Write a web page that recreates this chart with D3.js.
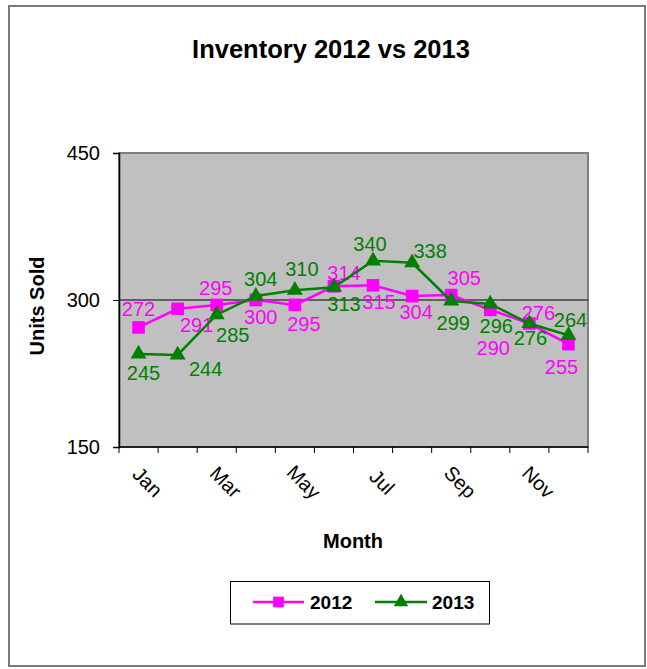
<!DOCTYPE html>
<html>
<head>
<meta charset="utf-8">
<script src="https://cdn.jsdelivr.net/npm/d3@7/dist/d3.min.js"></script>
<style>
  html, body { margin: 0; padding: 0; background: #fff; }
  svg { display: block; font-family: "Liberation Sans", Arial, sans-serif; }
</style>
</head>
<body>
<svg id="chart" width="647" height="669"></svg>
<script>
// ---- data ----
const months = ["Jan","Feb","Mar","Apr","May","Jun","Jul","Aug","Sep","Oct","Nov","Dec"];
const monthTickLabels = ["Jan","Mar","May","Jul","Sep","Nov"];
const values2012 = [272, 291, 295, 300, 295, 314, 315, 304, 305, 290, 276, 255];
const values2013 = [245, 244, 285, 304, 310, 313, 340, 338, 299, 296, 276, 264];
const yTicks = [150, 300, 450];
const seriesNames = ["2012", "2013"];

// ---- label placement (style, not data) ----
const labelOffsets2012 = [[0,-18],[19,16],[-1,-17],[5,17],[9,19],[10,-13],[6,17],[4,16],[13,-17],[3,38],[9,-11],[-7,23]];
const labelOffsets2013 = [[5,19],[28,14],[16,20],[5,-17],[7,-21],[10,17],[-3,-17],[18,-12],[2,22],[6,22],[1,14],[2,-15]];

const svg = d3.select("#chart");
const plot = { left: 119, right: 588, top: 153, bottom: 447 };
const C2012 = "#FF00FF", C2013 = "#008000";

// outer border
svg.append("rect").attr("x", 9).attr("y", 6).attr("width", 636).attr("height", 660)
  .attr("fill", "#fff").attr("stroke", "#7a7a7a").attr("stroke-width", 2);

// title
svg.append("text").attr("x", 331).attr("y", 58).attr("text-anchor", "middle")
  .attr("font-size", 25.5).attr("font-weight", "bold").text("Inventory 2012 vs 2013");

const x = d3.scaleBand().domain(months).range([plot.left, plot.right]).paddingInner(0).paddingOuter(0);
const y = d3.scaleLinear().domain([150, 450]).range([plot.bottom, plot.top]);
const cx = m => x(m) + x.bandwidth() / 2;

// plot background
svg.append("rect").attr("x", plot.left).attr("y", plot.top)
  .attr("width", plot.right - plot.left).attr("height", plot.bottom - plot.top)
  .attr("fill", "#C0C0C0").attr("stroke", "#808080").attr("stroke-width", 2);

// gridlines
svg.append("g").selectAll("line").data(yTicks.filter(t => t !== 150 && t !== 450)).join("line")
  .attr("x1", plot.left).attr("x2", plot.right)
  .attr("y1", d => y(d)).attr("y2", d => y(d))
  .attr("stroke", "#000").attr("stroke-width", 1);

// y axis
const yAxis = svg.append("g").attr("transform", `translate(${plot.left},0)`)
  .call(d3.axisLeft(y).tickValues(yTicks).tickSize(6).tickPadding(13).tickFormat(d3.format("d")));
yAxis.select(".domain").attr("stroke", "#000").attr("stroke-width", 1.5);
yAxis.selectAll(".tick line").attr("stroke", "#000");
yAxis.selectAll(".tick text").attr("font-size", 20).attr("fill", "#000")
  .attr("font-family", "Liberation Sans, Arial, sans-serif");

// x axis line and ticks at category boundaries
const boundaries = months.map(m => x(m)).concat([plot.right]);
const xAxisG = svg.append("g");
xAxisG.append("line").attr("x1", plot.left).attr("x2", plot.right)
  .attr("y1", plot.bottom).attr("y2", plot.bottom).attr("stroke", "#000").attr("stroke-width", 1.5);
xAxisG.selectAll("line.tick").data(boundaries).join("line").attr("class", "tick")
  .attr("x1", d => d).attr("x2", d => d).attr("y1", plot.bottom).attr("y2", plot.bottom + 6)
  .attr("stroke", "#000");
xAxisG.selectAll("text").data(monthTickLabels).join("text")
  .attr("transform", d => `translate(${cx(d) + 9},482) rotate(45)`)
  .attr("text-anchor", "middle").attr("dy", "0.35em").attr("font-size", 20).text(d => d);

// axis titles
svg.append("text").attr("x", 353).attr("y", 548).attr("text-anchor", "middle")
  .attr("font-size", 20).attr("font-weight", "bold").text("Month");
svg.append("text").attr("transform", "translate(44,306) rotate(-90)")
  .attr("text-anchor", "middle").attr("font-size", 20).attr("font-weight", "bold").text("Units Sold");

const line = d3.line().x((d, i) => cx(months[i])).y(d => y(d));
const square = d3.symbol().type(d3.symbolSquare).size(160);
const tri = d3.symbol().type(d3.symbolTriangle).size(110);

function drawSeries(vals, color, sym, offsets) {
  const g = svg.append("g");
  g.append("path").datum(vals).attr("d", line).attr("fill", "none")
    .attr("stroke", color).attr("stroke-width", 2.5);
  g.selectAll("path.m").data(vals).join("path").attr("class", "m")
    .attr("transform", (d, i) => `translate(${cx(months[i])},${y(d)})`)
    .attr("d", sym).attr("fill", color);
  g.selectAll("text").data(vals).join("text")
    .attr("x", (d, i) => cx(months[i]) + offsets[i][0])
    .attr("y", (d, i) => y(d) + offsets[i][1])
    .attr("dy", "0.35em").attr("text-anchor", "middle")
    .attr("font-size", 20).attr("fill", color).text(d => d);
}
drawSeries(values2012, C2012, square, labelOffsets2012);
drawSeries(values2013, C2013, tri, labelOffsets2013);

// legend
const lg = svg.append("g");
lg.append("rect").attr("x", 230.5).attr("y", 581.5).attr("width", 259).attr("height", 42.5)
  .attr("fill", "#fff").attr("stroke", "#000").attr("stroke-width", 1);
const legendItems = [
  { name: seriesNames[0], color: C2012, sym: d3.symbol().type(d3.symbolSquare).size(115), x1: 253, x2: 304, tx: 310 },
  { name: seriesNames[1], color: C2013, sym: d3.symbol().type(d3.symbolTriangle).size(90), x1: 375, x2: 427, tx: 432 }
];
legendItems.forEach(it => {
  lg.append("line").attr("x1", it.x1).attr("x2", it.x2).attr("y1", 602).attr("y2", 602)
    .attr("stroke", it.color).attr("stroke-width", 2.5);
  lg.append("path").attr("transform", `translate(${(it.x1 + it.x2) / 2},602)`)
    .attr("d", it.sym).attr("fill", it.color);
  lg.append("text").attr("x", it.tx).attr("y", 609).attr("font-size", 19)
    .attr("font-weight", "bold").text(it.name);
});
</script>
</body>
</html>
